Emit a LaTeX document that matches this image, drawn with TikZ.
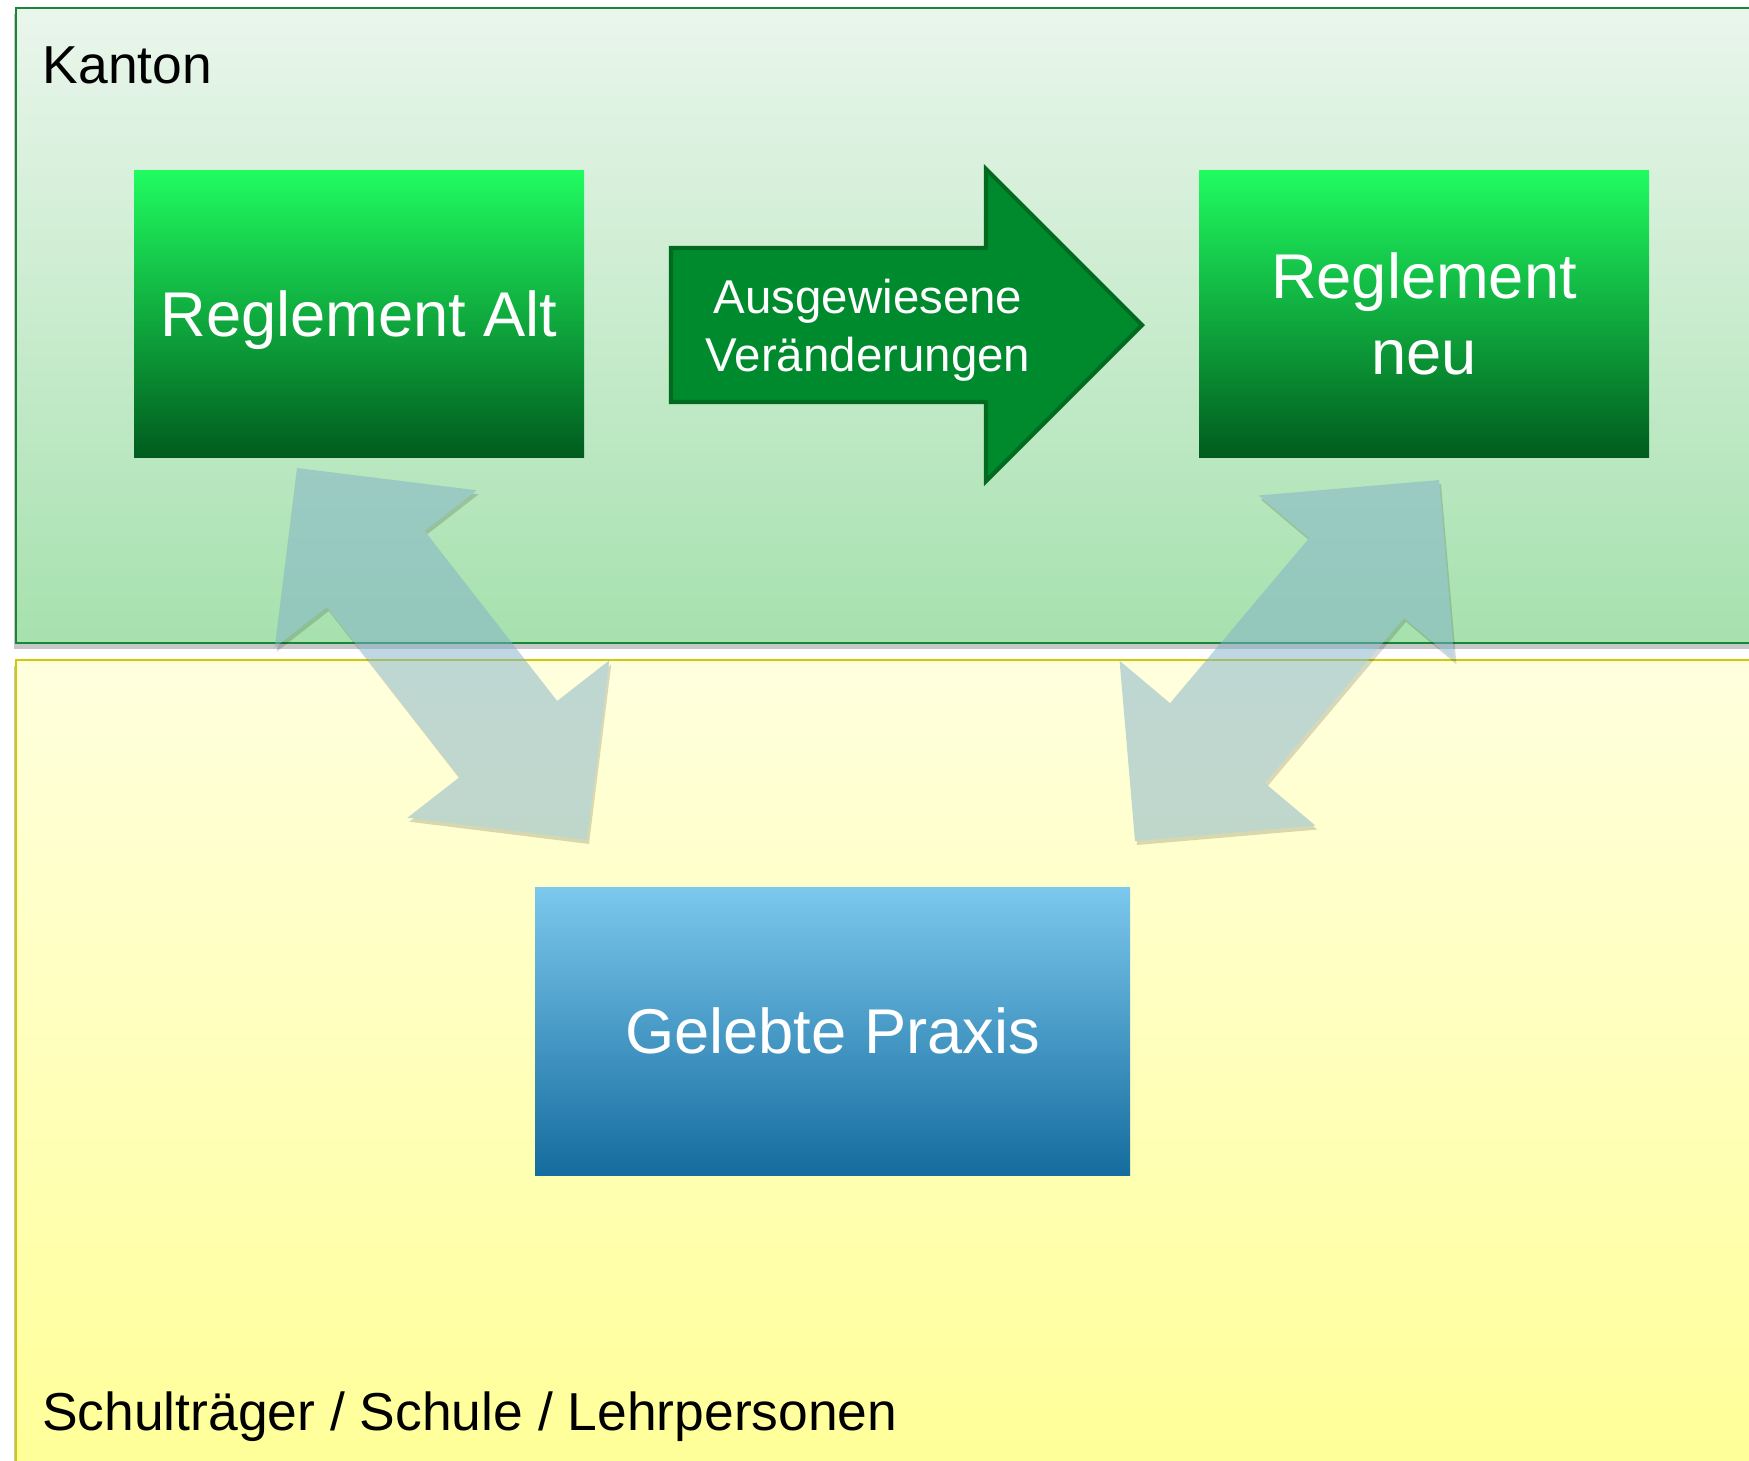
\documentclass[tikz,border=0pt]{standalone}
\usepackage{fontspec}
\setmainfont{Liberation Sans}
\usepackage{xcolor}
\usetikzlibrary{calc,positioning}
\definecolor{kantontop}{RGB}{234,246,236}
\definecolor{kantonbot}{RGB}{166,225,174}
\definecolor{kantonline}{RGB}{24,136,56}
\definecolor{schuletop}{RGB}{255,255,222}
\definecolor{schulebot}{RGB}{255,255,150}
\definecolor{schuleline}{RGB}{204,204,0}
\definecolor{regtop}{RGB}{32,252,96}
\definecolor{regmid}{RGB}{0,146,48}
\definecolor{regbot}{RGB}{0,92,30}
\definecolor{praxtop}{RGB}{124,200,238}
\definecolor{praxmid}{RGB}{44,166,226}
\definecolor{praxbot}{RGB}{20,108,158}
\definecolor{changefill}{RGB}{0,138,46}
\definecolor{changeline}{RGB}{0,106,30}
\definecolor{flow}{RGB}{128,176,200}

\begin{document}
\begin{tikzpicture}[
    panel/.style={line width=0.8pt, inner sep=0, outer sep=0,
      preaction={fill=black, fill opacity=0.22, transform canvas={shift={(-0.02,-0.06)}}}},
    regbox/.style={inner sep=0, outer sep=0, minimum width=4.5cm, minimum height=2.87cm,
      text=white, align=center, text depth=0pt, font=\fontsize{18}{21.8}\selectfont,
      top color=regtop, middle color=regmid, bottom color=regbot},
    flowarrow/.style={fill=flow,
      preaction={fill=black, fill opacity=0.3, transform canvas={shift={(0.02,-0.04)}}}},
    label/.style={anchor=base west, inner sep=0, font=\fontsize{15.2}{18}\selectfont}
  ]
    \useasboundingbox (0,0) rectangle (17.49,-14.60);

    % panels
    \node[panel, draw=kantonline, top color=kantontop, bottom color=kantonbot,
      minimum width=17.64cm, minimum height=6.35cm] (kanton) at (8.98,-3.255) {};
    \node[panel, draw=schuleline, top color=schuletop, bottom color=schulebot,
      minimum width=17.64cm, minimum height=8.3cm] (schule) at (8.98,-10.75) {};
    \node[label] (kantonlbl) at (0.42,-0.83) {Kanton};
    \node[label] (schulelbl) at (0.415,-14.307) {Schulträger / Schule / Lehrpersonen};

    % tips of the double arrows
    \coordinate (altA) at (2.97,-4.68);
    \coordinate (altB) at (5.87,-8.40);
    \coordinate (neuA) at (14.39,-4.80);
    \coordinate (neuB) at (11.35,-8.41);

    \foreach \a/\b in {altA/altB,neuA/neuB}
    {
      \begin{scope}[transparency group, opacity=0.5]
      \fill[flowarrow] (\a)
        -- ($(\a)!1.81cm!45:(\b)$) -- ($(\a)!1.422cm!25.84:(\b)$)
        -- ($(\b)!1.422cm!-25.84:(\a)$) -- ($(\b)!1.81cm!-45:(\a)$)
        -- (\b)
        -- ($(\b)!1.81cm!45:(\a)$) -- ($(\b)!1.422cm!25.84:(\a)$)
        -- ($(\a)!1.422cm!-25.84:(\b)$) -- ($(\a)!1.81cm!-45:(\b)$)
        -- cycle;
      \end{scope}
    }

    % boxes
    \node[regbox] (alt) at (3.59,-3.135) {Reglement Alt};
    \node[regbox, right=6.15cm of alt] (neu) {Reglement\\neu};
    \node[regbox, minimum width=5.95cm, minimum height=2.88cm,
      top color=praxtop, middle color=praxmid, bottom color=praxbot] (praxis) at (8.325,-10.31) {Gelebte Praxis};

    % change arrow
    \draw[fill=changefill, draw=changeline, line width=1.2pt, line join=miter]
      (6.71,-2.48) -- (9.86,-2.48) -- (9.86,-1.69) -- (11.42,-3.25)
      -- (9.86,-4.81) -- (9.86,-4.02) -- (6.71,-4.02) -- cycle;
    \node[text=white, align=center, text depth=0pt, font=\fontsize{13.5}{16.4}\selectfont] (change) at (8.68,-3.25)
      {Ausgewiesene\\Veränderungen};

\end{tikzpicture}
\end{document}
